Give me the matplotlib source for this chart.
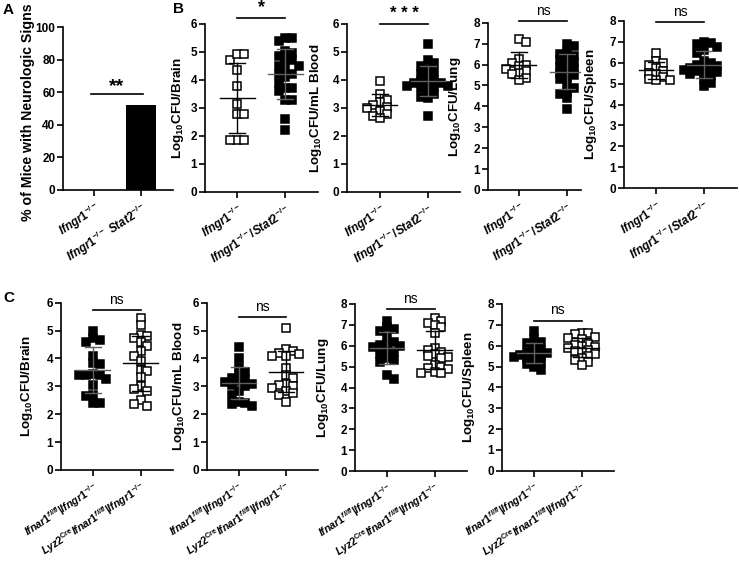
import numpy as np
import matplotlib
matplotlib.use("Agg")
import matplotlib.pyplot as plt

plt.rcParams['font.family'] = ['Liberation Sans', 'DejaVu Sans']
plt.rcParams['font.weight'] = 'bold'
plt.rcParams['mathtext.fontset'] = 'custom'
plt.rcParams['mathtext.it'] = 'Liberation Sans:italic:bold'
plt.rcParams['mathtext.bf'] = 'Liberation Sans:bold'
plt.rcParams['mathtext.rm'] = 'Liberation Sans'
plt.rcParams['mathtext.default'] = 'it'

# ---------------- data ----------------
a_groups = [r'$Ifngr1^{-/-}$', r'$Ifngr1^{-/-}\ Stat2^{-/-}$']
a_percent = [0, 52]

b_groups = [r'$Ifngr1^{-/-}$', r'$Ifngr1^{-/-}/Stat2^{-/-}$']
c_groups = [r'$Ifnar1^{fl/fl}|Ifngr1^{-/-}$',
            r'$Lyz2^{\mathrm{Cre}}Ifnar1^{fl/fl}|Ifngr1^{-/-}$']

b_brain_ifngr1 = [4.72, 4.92, 4.92, 4.36, 3.78, 3.14, 2.77, 2.77, 1.85, 1.85, 1.85]
b_brain_stat2 = [5.5, 5.5, 5.4, 5.05, 4.95, 4.85, 4.7, 4.7, 4.5, 4.5, 4.4, 4.2, 4.2,
                 4.1, 3.9, 3.7, 3.7, 3.6, 3.3, 3.3, 2.6, 2.2]
b_blood_ifngr1 = [3.96, 3.49, 3.3, 3.2, 3.1, 3.05, 3.0, 2.9, 2.8, 2.7, 2.65]
b_blood_stat2 = [5.3, 4.7, 4.6, 4.5, 4.4, 4.3, 4.2, 4.1, 4.0, 3.95, 3.9, 3.9, 3.85,
                 3.8, 3.8, 3.75, 3.7, 3.6, 3.5, 3.4, 3.35, 2.7]
b_lung_ifngr1 = [7.2, 7.1, 6.25, 6.05, 6.0, 5.95, 5.8, 5.7, 5.6, 5.55, 5.35, 5.25]
b_lung_stat2 = [7.0, 6.9, 6.6, 6.5, 6.4, 6.3, 6.2, 6.1, 6.0, 5.9, 5.8, 5.7, 5.6, 5.5,
                5.4, 5.3, 5.0, 4.9, 4.7, 4.6, 4.4, 3.85]
b_spleen_ifngr1 = [6.45, 6.1, 6.0, 5.9, 5.75, 5.6, 5.5, 5.45, 5.3, 5.2, 5.15, 5.15]
b_spleen_stat2 = [7.0, 6.95, 6.9, 6.75, 6.6, 6.45, 6.1, 6.0, 5.9, 5.85, 5.8, 5.75,
                  5.7, 5.65, 5.6, 5.55, 5.5, 5.45, 5.35, 5.2, 5.05, 4.9]

c_brain_flfl = [4.98, 4.75, 4.65, 4.6, 4.1, 3.85, 3.8, 3.45, 3.4, 3.4, 3.4, 3.25,
                3.05, 2.7, 2.65, 2.4, 2.4]
c_brain_lyz2 = [5.45, 5.2, 4.85, 4.8, 4.75, 4.6, 4.45, 4.25, 4.1, 3.9, 3.6, 3.55,
                3.35, 3.0, 2.9, 2.85, 2.5, 2.35, 2.3]
c_blood_flfl = [4.4, 4.0, 3.7, 3.5, 3.45, 3.3, 3.25, 3.2, 3.15, 3.1, 3.05, 3.0,
                2.85, 2.7, 2.45, 2.4, 2.35, 2.3]
c_blood_lyz2 = [5.1, 4.35, 4.25, 4.2, 4.15, 4.1, 4.1, 3.65, 3.4, 3.3, 3.1, 3.05,
                3.0, 2.95, 2.85, 2.75, 2.7, 2.45]
c_lung_flfl = [7.2, 6.9, 6.8, 6.7, 6.4, 6.2, 6.1, 6.05, 6.0, 5.95, 5.8, 5.7, 5.6,
               5.4, 5.3, 5.2, 4.6, 4.4]
c_lung_lyz2 = [7.35, 7.2, 7.1, 7.0, 6.9, 6.6, 5.9, 5.8, 5.7, 5.6, 5.5, 5.45, 5.4,
               5.1, 5.0, 4.95, 4.9, 4.75, 4.7, 4.7]
c_spleen_flfl = [6.7, 6.3, 6.2, 6.15, 5.9, 5.8, 5.7, 5.65, 5.6, 5.55, 5.5, 5.45,
                 5.4, 5.3, 5.2, 5.1, 5.0, 4.85]
c_spleen_lyz2 = [6.6, 6.6, 6.55, 6.4, 6.35, 6.3, 6.1, 6.05, 6.0, 5.95, 5.9, 5.8,
                 5.75, 5.7, 5.6, 5.5, 5.4, 5.3, 5.2, 5.05]

# ---------------- layout helpers ----------------
W, H = 739, 564
fig = plt.figure(figsize=(W / 100, H / 100), dpi=100)


def add_ax(l, r, t, b):
    return fig.add_axes([l / W, 1 - b / H, (r - l) / W, (b - t) / H])


def style(ax, ymax, ystep, labels, ylabel, lab_x, xlim=(-0.67, 1.68), ylsize=9.6,
          xlsize=8.3, lab_y=0.5):
    for s in ['top', 'right']:
        ax.spines[s].set_visible(False)
    for s in ['left', 'bottom']:
        ax.spines[s].set_linewidth(1.2)
    ax.set_ylim(0, ymax)
    ax.set_xlim(*xlim)
    ax.set_yticks(np.arange(0, ymax + 0.001, ystep))
    ax.tick_params(axis='both', width=1.2, length=4, labelsize=8.5, pad=1.5)
    ax.tick_params(axis='x', pad=3)
    ax.set_xticks([0, 1])
    ax.set_xticklabels(labels, rotation=33, ha='right', va='top',
                       rotation_mode='anchor', fontsize=xlsize)
    for t in ax.get_yticklabels():
        t.set_fontweight('bold')
    ax.set_ylabel(ylabel, fontsize=ylsize, fontweight='bold')
    ax.yaxis.set_label_coords(lab_x, lab_y)


def swarm_offsets(ax, vals, size=7.5):
    bb = ax.get_position()
    x0, x1 = ax.get_xlim()
    y0, y1 = ax.get_ylim()
    xppu = bb.width * W / (x1 - x0)
    yppu = bb.height * H / (y1 - y0)
    vals = np.asarray(vals, float)
    order = np.argsort(-vals, kind='stable')
    placed = []
    off = np.zeros(len(vals))
    step = size * 0.45
    thr = size * 0.8
    flip = 1
    for i in order:
        y = vals[i] * yppu
        cands = [0.0]
        for j in range(1, 40):
            cands += [flip * j * step, -flip * j * step]
        for c in cands:
            if all(abs(c - px) >= thr or abs(y - py) >= thr for px, py in placed):
                break
        if c != 0:
            flip = -flip
        placed.append((c, y))
        off[i] = c / xppu
    return off


def scatter_group(ax, pos, vals, filled):
    off = swarm_offsets(ax, vals)
    ax.plot(pos + off, vals, ls='none', marker='s', ms=5.3,
            mfc='black' if filled else 'white', mec='black', mew=1.1,
            zorder=3, clip_on=False)
    m = np.mean(vals)
    sd = np.std(vals, ddof=1)
    ec = '#606060' if filled else 'black'
    ax.plot([pos - 0.36, pos + 0.36], [m, m], color=ec, lw=1.0, zorder=4)
    ax.plot([pos, pos], [m - sd, m + sd], color=ec, lw=1.0, zorder=4)
    for yy in (m - sd, m + sd):
        ax.plot([pos - 0.17, pos + 0.17], [yy, yy], color=ec, lw=1.0, zorder=4)


def sig(ax, text, yline, ytext, size=9, weight='normal', x0=0, x1=1):
    tr = ax.get_xaxis_transform()
    ax.plot([x0, x1], [yline, yline], color='black', lw=1.2, transform=tr,
            clip_on=False)
    ax.text((x0 + x1) / 2, ytext, text, transform=tr, ha='center', va='bottom',
            fontsize=size, fontweight=weight)


ylab = lambda organ: r'Log$_{\mathbf{10}}$CFU/' + organ

# ---------------- Panel A ----------------
axA = add_ax(63, 173, 27, 190)
style(axA, 100, 20, a_groups, '% of Mice with Neurologic Signs', -0.25,
      xlim=(-0.66, 1.68), ylsize=10.2, lab_y=0.48)
axA.bar([0, 1], a_percent, width=0.64, color='black')
sig(axA, '**', 0.59, 0.585, size=14, weight='bold', x0=-0.06, x1=1.04)

# ---------------- Panel B ----------------
b_specs = [
    ((205, 318, 24, 192), 6, b_brain_ifngr1, b_brain_stat2, 'Brain', -0.17,
     '*', 1.037, 1.05, 13, 'bold', (-0.67, 1.68)),
    ((347, 460, 24, 192), 6, b_blood_ifngr1, b_blood_stat2, 'mL Blood', -0.20,
     '* * *', 1.0, 1.02, 12, 'bold', (-0.70, 1.68)),
    ((488, 581, 22.7, 190), 8, b_lung_ifngr1, b_lung_stat2, 'Lung', -0.27,
     'ns', 1.012, 1.03, 10, 'normal', (-0.65, 1.29)),
    ((624, 737, 20.7, 188.3), 8, b_spleen_ifngr1, b_spleen_stat2, 'Spleen', -0.22,
     'ns', 0.99, 1.01, 10, 'normal', (-0.67, 1.69)),
]
for box, ymax, g1, g2, organ, lx, stxt, yl, yt, fs, fw, xl in b_specs:
    ax = add_ax(*box)
    style(ax, ymax, 1, b_groups, ylab(organ), lx, xlim=xl)
    scatter_group(ax, 0, g1, filled=False)
    scatter_group(ax, 1, g2, filled=True)
    sig(ax, stxt, yl, yt, size=fs, weight=fw)

# ---------------- Panel C ----------------
c_specs = [
    ((61, 173, 302.7, 470), 6, c_brain_flfl, c_brain_lyz2, 'Brain', -0.23, 0.956),
    ((207, 318, 302.7, 470), 6, c_blood_flfl, c_blood_lyz2, 'mL Blood', -0.18, 0.913),
    ((355, 467, 304, 471), 8, c_lung_flfl, c_lung_lyz2, 'Lung', -0.21, 0.968),
    ((502, 614, 304, 470.7), 8, c_spleen_flfl, c_spleen_lyz2, 'Spleen', -0.22, 0.90),
]
for box, ymax, g1, g2, organ, lx, yl in c_specs:
    ax = add_ax(*box)
    style(ax, ymax, 1, c_groups, ylab(organ), lx, xlsize=7.6)
    scatter_group(ax, 0, g1, filled=True)
    scatter_group(ax, 1, g2, filled=False)
    sig(ax, 'ns', yl, yl + 0.02, size=10, weight='normal')

# panel letters
fig.text(3 / W, 1 - 3 / H, 'A', fontsize=11, fontweight='bold', va='top')
fig.text(173 / W, 1 - 2 / H, 'B', fontsize=11, fontweight='bold', va='top')
fig.text(3 / W, 1 - 291 / H, 'C', fontsize=11, fontweight='bold', va='top')

fig.savefig('out.png', dpi=100)
